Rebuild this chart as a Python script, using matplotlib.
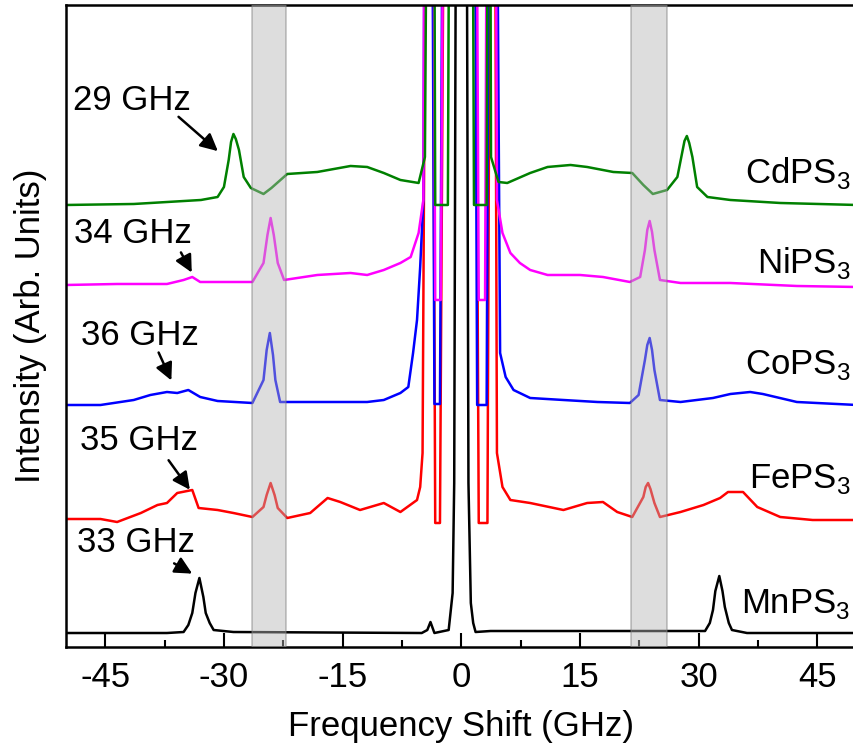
import matplotlib.pyplot as plt

plt.rcParams['font.family'] = ['Liberation Sans', 'DejaVu Sans']
plt.rcParams['mathtext.fontset'] = 'custom'
plt.rcParams['mathtext.rm'] = 'Liberation Sans'
plt.rcParams['axes.unicode_minus'] = False
plt.rcParams['font.size'] = 25

# spectra (GHz, arb. intensity above each baseline)
freq_mn = [-50, -37.2, -35.1, -34.5, -34.0, -33.6, -33.1, -32.6, -32.3, -31.8, -31.3, -28.8,
           -5.0, -4.3, -3.9, -3.4, -1.6, -1.1, -0.9, -0.7, 0, 0.7, 0.9, 1.2, 1.5, 1.8, 3.7,
           30.8, 31.4, 31.8, 32.1, 32.6, 33.0, 33.3, 33.8, 34.2, 36.1, 50]
int_mn = [0, 0, 0.1, 0.8, 2.0, 4.0, 5.5, 3.6, 2.0, 1.0, 0.3, 0.1,
          0, 0.3, 1.1, 0, 0.3, 4.0, 15, 70, 200, 70, 15, 3.0, 1.0, 0.1, 0.2,
          0.2, 1.0, 2.3, 4.2, 5.7, 4.2, 2.6, 1.0, 0.3, 0, 0]

freq_fe = [-50, -45.6, -43.5, -40.5, -38.4, -37.2, -35.9, -34.0, -33.2, -30.8, -28.8, -26.4,
           -25.0, -24.6, -24.1, -23.6, -23.2, -22.0, -19.1, -16.9, -15.3, -12.8, -9.8, -7.7,
           -5.6, -5.2, -4.9, -4.4, -3.7, -3.3, -2.7, -2.1, 0, 1.7, 2.2, 3.3, 3.7, 4.2, 4.5,
           5.2, 6.2, 8.7, 12.9, 15.9, 17.9, 19.7, 21.6, 23.0, 23.3, 23.6, 23.9, 24.4, 25.1,
           27.7, 30.6, 32.7, 33.7, 35.6, 37.4, 40.3, 44.4, 50]
int_fe = [0, 0, -0.3, 0.6, 1.4, 1.6, 2.6, 2.9, 1.1, 0.9, 0.6, 0.2,
          1.2, 2.4, 3.6, 2.4, 1.1, 0.1, 0.6, 2.1, 1.7, 0.9, 1.6, 0.7,
          1.9, 3.2, 6.6, 80, 80, -0.4, -0.4, 80, 80, 80, -0.4, -0.4, 80, 80, 6.6,
          3.2, 1.9, 1.6, 0.9, 1.6, 1.7, 0.7, 0.2, 2.2, 3.2, 3.6, 3.0, 1.6, 0.2,
          0.7, 1.4, 2.1, 2.7, 2.7, 1.2, 0.2, -0.1, -0.1]

freq_co = [-50, -45.6, -41.4, -39.3, -37.2, -35.9, -34.5, -33.0, -30.8, -26.4, -25.0, -24.6,
           -24.2, -23.8, -23.5, -22.9, -20.3, -16.2, -11.9, -9.8, -7.7, -6.7, -6.1, -5.6, -5.2,
           -4.8, -4.5, -3.8, -3.4, -2.7, -2.2, 0, 1.6, 2.0, 3.2, 3.6, 4.3, 4.9, 5.6, 6.6, 8.7,
           12.9, 17.2, 21.3, 22.4, 23.2, 23.5, 23.8, 24.1, 24.4, 25.1, 27.7, 31.8, 34.0, 36.5,
           38.1, 42.4, 50]
int_co = [0, 0, 0.5, 1.0, 1.3, 1.2, 1.5, 0.8, 0.4, 0.2, 2.5, 5.5,
          7.2, 5.0, 2.5, 0.3, 0.3, 0.3, 0.3, 0.5, 1.2, 1.8, 5.2, 8.5, 13.8,
          20.5, 80, 80, 0.1, 0.1, 80, 80, 80, 0, 0, 80, 80, 5.2, 2.8, 1.5, 0.7,
          0.5, 0.3, 0.2, 1.0, 4.5, 6.0, 6.7, 5.5, 3.5, 0.5, 0.3, 0.7, 1.1, 1.3,
          1.1, 0.3, 0]

freq_ni = [-50, -43.5, -37.2, -35.1, -34.0, -33.0, -28.8, -26.4, -25.0, -24.5, -24.1, -23.7,
           -23.2, -22.4, -18.2, -14.0, -11.9, -9.8, -7.7, -6.4, -5.4, -4.8, -4.5, -3.7, -3.3,
           -2.6, -2.0, 0, 1.7, 2.2, 3.0, 3.4, 4.2, 4.5, 5.2, 6.2, 7.4, 8.7, 10.9, 15.0, 17.9,
           21.3, 22.6, 23.2, 23.5, 23.8, 24.1, 24.4, 25.1, 27.7, 34.0, 42.4, 50]
int_ni = [0, 0.1, 0.1, 0.5, 0.8, 0.3, 0.3, 0.3, 2.2, 5.0, 6.7, 5.0,
          2.2, 0.5, 1.0, 1.2, 1.0, 1.5, 2.2, 2.8, 5.2, 8.5, 80, 80, -1.5,
          -1.5, 80, 80, 80, -1.5, -1.5, 80, 80, 8.5, 5.2, 3.2, 2.2, 1.5, 1.0, 1.0, 0.8,
          0.3, 0.8, 3.5, 5.5, 6.4, 5.3, 3.5, 0.5, 0.2, 0.2, -0.1, -0.2]

freq_cd = [-50, -41.4, -32.9, -30.8, -30.0, -29.4, -29.1, -28.8, -28.5, -28.1, -27.5, -26.6,
           -25.0, -24.0, -22.0, -18.2, -14.0, -11.9, -9.8, -7.7, -5.4, -4.6, -4.0, -3.6, -3.3,
           -1.7, -1.3, 0, 1.2, 1.6, 3.2, 3.5, 3.75, 4.7, 5.8, 8.7, 10.9, 13.8, 15.9, 19.2, 21.6,
           23.0, 24.2, 26.0, 27.3, 27.9, 28.2, 28.5, 28.8, 29.2, 29.8, 31.1, 34.0, 40.3, 50]
int_cd = [0, 0.1, 0.5, 0.8, 1.8, 4.5, 6.3, 7.1, 6.6, 5.5, 2.8, 1.7,
          1.1, 1.7, 3.1, 3.3, 3.9, 3.8, 3.2, 2.5, 2.2, 4.8, 80, 80, 0,
          0, 80, 80, 80, 0, 0, 80, 4.8, 2.3, 2.2, 3.2, 3.8, 4.0, 3.8, 3.3, 3.2,
          2.0, 1.1, 1.5, 2.8, 5.2, 6.4, 6.9, 6.2, 4.8, 1.8, 0.8, 0.5, 0.2, 0]

names = ['MnPS$_\\mathregular{3}$', 'FePS$_\\mathregular{3}$', 'CoPS$_\\mathregular{3}$',
         'NiPS$_\\mathregular{3}$', 'CdPS$_\\mathregular{3}$']
peak_labels = ['33 GHz', '35 GHz', '36 GHz', '34 GHz', '29 GHz']

freqs = [freq_mn, freq_fe, freq_co, freq_ni, freq_cd]
ints = [int_mn, int_fe, int_co, int_ni, int_cd]
colors = ['black', '#ff0000', '#0000ff', '#ff00ff', '#008000']
offsets = [1.4, 12.8, 24.2, 36.2, 44.2]
name_y = [3.4, 15.9, 27.3, 37.4, 46.4]
# (text x, text y, arrow tail, arrow tip)
ann = [(-48.6, 9.5, (-36.6, 8.5), (-33.7, 7.2)),
       (-48.2, 19.7, (-37.2, 18.9), (-34.1, 15.5)),
       (-48.0, 30.2, (-38.4, 29.7), (-36.5, 26.4)),
       (-48.9, 40.4, (-35.6, 39.7), (-33.9, 37.2)),
       (-49.1, 53.7, (-36.0, 53.2), (-30.5, 49.4))]

fig = plt.figure(figsize=(8.54, 7.54), dpi=100)
ax = fig.add_axes([0.0769, 0.1419, 0.9266, 0.8515])

for f, y, c, off in zip(freqs, ints, colors, offsets):
    ax.plot(f, [v + off for v in y], color=c, lw=1.8)

for a, b in [(-26.5, -22.2), (21.5, 26.0)]:
    ax.axvspan(a, b, facecolor='#b4b4b4', alpha=0.45, edgecolor='#7a7a7a', lw=1.2, zorder=5)

for nm, ny in zip(names, name_y):
    ax.text(49.2, ny, nm, ha='right', va='baseline', fontsize=25)

for lab, (tx, ty, tail, tip) in zip(peak_labels, ann):
    ax.text(tx, ty, lab, ha='left', va='baseline', fontsize=25)
    ax.annotate('', xy=tip, xytext=tail,
                arrowprops=dict(arrowstyle='-|>', color='black', lw=1.8, mutation_scale=26))

ax.set_xlim(-50, 50)
ax.set_ylim(0, 64.2)
ax.set_xticks([-45, -30, -15, 0, 15, 30, 45])
ax.set_xticks([-37.5, -22.5, -7.5, 7.5, 22.5, 37.5], minor=True)
ax.set_yticks([])
ax.tick_params(axis='x', which='major', direction='in', length=10, width=1.5, pad=10, labelsize=25)
ax.tick_params(axis='x', which='minor', direction='in', length=5, width=1.5)
for s in ax.spines.values():
    s.set_linewidth(1.8)

ax.set_xlabel('Frequency Shift (GHz)', fontsize=25)
ax.set_ylabel('Intensity (Arb. Units)', fontsize=25)
ax.xaxis.set_label_coords(0.5, -0.098)
ax.yaxis.set_label_coords(-0.024, 0.5)

fig.savefig('out.png', dpi=100)
